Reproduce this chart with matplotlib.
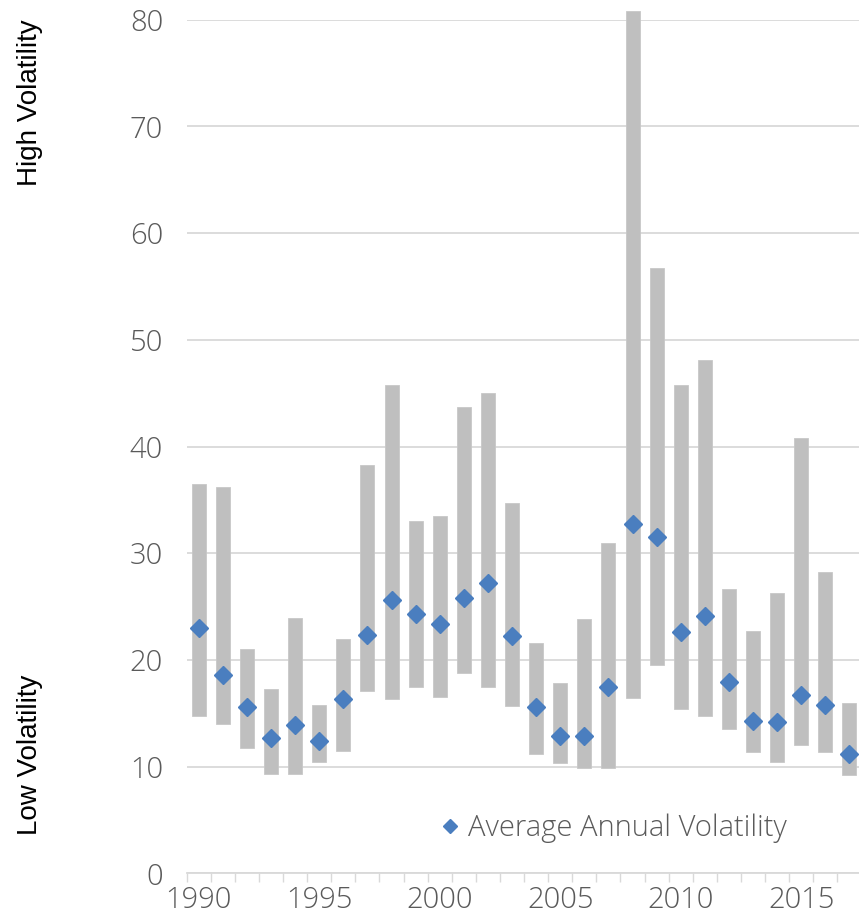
import matplotlib
matplotlib.use("Agg")
import matplotlib.pyplot as plt
import numpy as np

# Annual volatility range (low / high) and average, 1990-2017
years = list(range(1990, 2018))
vol_low = [14.7, 14.0, 11.7, 9.3, 9.3, 10.4, 11.5, 17.1, 16.3, 17.5,
           16.5, 18.8, 17.5, 15.7, 11.2, 10.3, 9.9, 9.9, 16.4, 19.5,
           15.4, 14.7, 13.5, 11.4, 10.4, 12.0, 11.4, 9.2]
vol_high = [36.5, 36.2, 21.0, 17.3, 23.9, 15.8, 22.0, 38.3, 45.8, 33.0,
            33.5, 43.7, 45.0, 34.7, 21.6, 17.8, 23.8, 31.0, 80.8, 56.7,
            45.8, 48.1, 26.6, 22.7, 26.3, 40.8, 28.2, 16.0]
vol_avg = [23.0, 18.6, 15.6, 12.7, 13.9, 12.4, 16.3, 22.3, 25.6, 24.3,
           23.4, 25.8, 27.2, 22.2, 15.6, 12.9, 12.9, 17.5, 32.7, 31.5,
           22.6, 24.1, 17.9, 14.3, 14.2, 16.7, 15.8, 11.2]
y_ticks = [0, 10, 20, 30, 40, 50, 60, 70, 80]
x_label_years = [1990, 1995, 2000, 2005, 2010, 2015]

BAR = "#BFBFBF"
DIAMOND = "#4A7EBF"
GRID = "#D9D9D9"
TEXT = "#5A5A5A"

plt.rcParams["font.family"] = ["Open Sans", "DejaVu Sans"]
plt.rcParams["font.weight"] = "light"

fig = plt.figure(figsize=(8.59, 9.16), dpi=100)
ax = fig.add_axes([0.2173, 0.0466, 0.7856, 0.9319])

x = np.arange(len(years))
low = np.array(vol_low)
high = np.array(vol_high)
ax.bar(x, high - low, bottom=low, width=0.58, color=BAR,
       edgecolor="#C8C8C8", linewidth=0.6, zorder=2, clip_on=False)
ax.plot(x, vol_avg, linestyle="none", marker="D", markersize=9.5,
        color=DIAMOND, markeredgecolor=DIAMOND, zorder=3,
        label="Average Annual Volatility", clip_on=False)

ax.set_xlim(-0.5, len(years) - 0.5)
ax.set_ylim(0, 80)
ax.set_yticks(y_ticks)
ax.set_yticklabels([str(v) for v in y_ticks])
ax.yaxis.grid(True, color=GRID, linewidth=1.3, zorder=0)
ax.set_axisbelow(True)

major = [years.index(y) for y in x_label_years]
ax.set_xticks(major)
ax.set_xticklabels([str(y) for y in x_label_years])
ax.set_xticks(np.arange(-0.5, len(years), 1.0), minor=True)
ax.tick_params(axis="x", which="major", length=0, pad=9,
               labelsize=21, labelcolor=TEXT)
ax.tick_params(axis="x", which="minor", length=6.5, width=1.0,
               color=GRID, direction="out")
ax.tick_params(axis="y", length=0, pad=17, labelsize=21, labelcolor=TEXT)

for side in ["top", "right", "left"]:
    ax.spines[side].set_visible(False)
ax.spines["bottom"].set_color(GRID)
ax.spines["bottom"].set_linewidth(1.3)

leg = ax.legend(loc="center left", bbox_to_anchor=(0.497, 1 - 828 / 916),
                bbox_transform=fig.transFigure, frameon=False,
                handlelength=0.6, handletextpad=0.3, markerscale=0.8,
                borderpad=0, prop={"size": 21})
for t in leg.get_texts():
    t.set_color(TEXT)

side_font = ["Liberation Sans", "DejaVu Sans"]
fig.text(0.035, 1 - 103 / 916, "High Volatility", rotation=90, ha="center",
         va="center", fontsize=20, family=side_font, weight="normal",
         color="black")
fig.text(0.035, 1 - 755 / 916, "Low Volatility", rotation=90, ha="center",
         va="center", fontsize=20, family=side_font, weight="normal",
         color="black")

fig.savefig("out.png", dpi=100)
